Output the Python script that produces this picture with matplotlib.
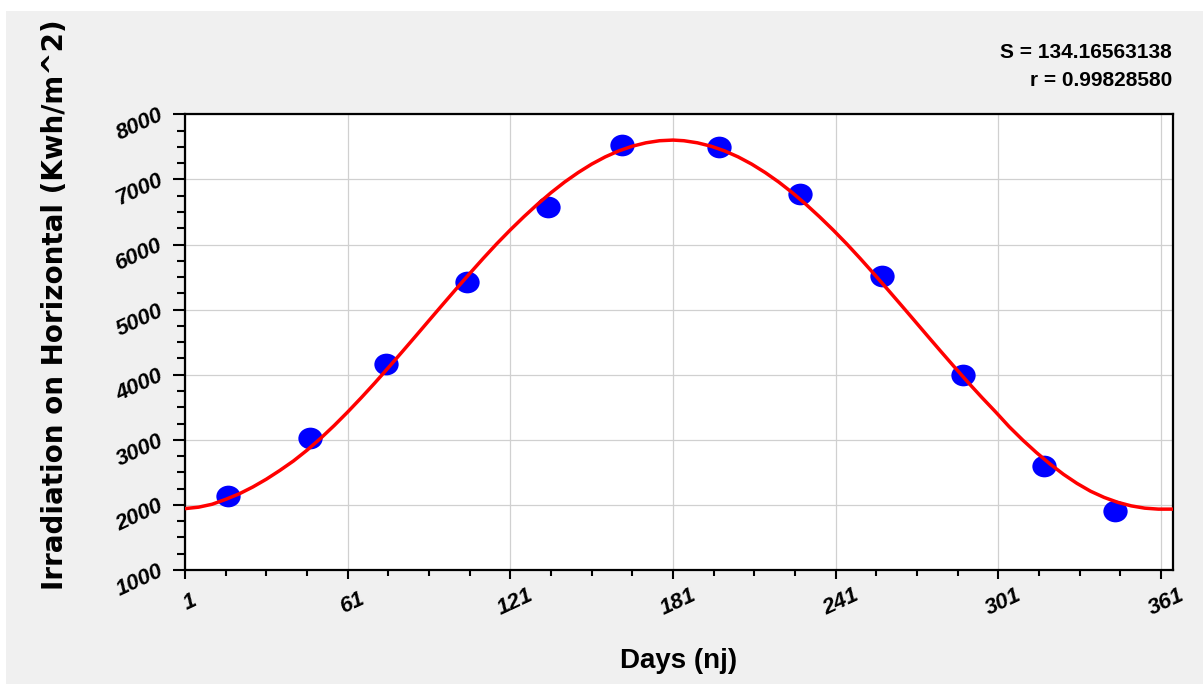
import numpy as np
import matplotlib
matplotlib.use('Agg')
import matplotlib.pyplot as plt
from matplotlib.path import Path
from matplotlib.patches import Rectangle
from matplotlib.ticker import FixedLocator
from matplotlib.transforms import Affine2D, ScaledTranslation

# mean monthly irradiation on a horizontal surface (recommended day of each month)
days = [17, 47, 75, 105, 135, 162, 198, 228, 258, 288, 318, 344]
irradiation = [2130, 3025, 4165, 5425, 6575, 7525, 7495, 6775, 5515, 3995, 2590, 1900]

# fitted curve, read every 5 days
fit_days = [1, 6, 11, 16, 21, 26, 31, 36, 41, 46, 51, 56, 61, 66, 71, 76, 81, 86, 91,
            96, 101, 106, 111, 116, 121, 126, 131, 136, 141, 146, 151, 156, 161, 166,
            171, 176, 181, 185, 190, 195, 200, 205, 210, 215, 220, 225, 230, 235, 240,
            245, 250, 255, 260, 265, 270, 275, 280, 285, 290, 295, 300, 305, 310, 315,
            320, 325, 330, 335, 340, 345, 350, 355, 360, 365]
fit_values = [1943, 1965, 2010, 2085, 2170, 2275, 2395, 2530, 2675, 2840, 3022, 3218,
              3427, 3646, 3873, 4108, 4347, 4589, 4833, 5076, 5317, 5554, 5787, 6012,
              6225, 6427, 6618, 6796, 6959, 7105, 7235, 7346, 7438, 7510, 7562, 7594,
              7604, 7594, 7562, 7510, 7438, 7346, 7235, 7105, 6959, 6796, 6618, 6427,
              6225, 6012, 5787, 5554, 5317, 5076, 4833, 4589, 4347, 4108, 3873, 3646,
              3427, 3200, 2995, 2805, 2630, 2470, 2330, 2210, 2115, 2040, 1985, 1950,
              1935, 1935]

stats_lines = ['S = 134.16563138', 'r = 0.99828580']
x_ticks = [1, 61, 121, 181, 241, 301, 361]
y_ticks = [1000, 2000, 3000, 4000, 5000, 6000, 7000, 8000]

W, H = 1203, 684
fig = plt.figure(figsize=(W / 100, H / 100), dpi=100, facecolor='white')
fig.add_artist(Rectangle((6 / W, 0), 1, 673 / H, transform=fig.transFigure,
                         facecolor='#f0f0f0', edgecolor='none', zorder=0))

ax = fig.add_axes([185 / W, 1 - 570 / H, (1173 - 185) / W, (570 - 114.3) / H])
ax.set_facecolor('white')

# slightly flattened dots
ellipse = Path.unit_circle().transformed(Affine2D().scale(1.12, 1.0))

ax.plot(fit_days, fit_values, color='#ff0000', lw=2.5, zorder=3)
ax.plot(days, irradiation, linestyle='none', marker=ellipse, markersize=17.5,
        color='#0000ff', markeredgewidth=0, zorder=2)

ax.set_xlim(1, 365.4)
ax.set_ylim(1000, 8000)
ax.xaxis.set_major_locator(FixedLocator(x_ticks))
ax.xaxis.set_minor_locator(FixedLocator(np.arange(1, 362, 15)))
ax.yaxis.set_major_locator(FixedLocator(y_ticks))
ax.yaxis.set_minor_locator(FixedLocator(np.arange(1000, 8001, 250)))

ax.grid(True, which='major', color='#d0d0d0', lw=0.9, zorder=0)
ax.set_axisbelow(True)
for sp in ax.spines.values():
    sp.set_linewidth(1.6)
    sp.set_color('black')

ax.tick_params(axis='x', which='major', direction='out', length=6.5, width=1.5, pad=17)
ax.tick_params(axis='x', which='minor', direction='out', length=4.3, width=1.5)
ax.tick_params(axis='y', which='major', direction='out', length=8.6, width=1.5, pad=8)
ax.tick_params(axis='y', which='minor', direction='out', length=5.8, width=1.5)

tick_font = dict(family='Liberation Sans', weight='bold', style='italic', size=16)
ax.set_xticklabels([str(v) for v in x_ticks], rotation=25, ha='center', va='center',
                   rotation_mode='anchor', **tick_font)
ax.set_yticklabels([str(v) for v in y_ticks], rotation=25, ha='right', va='center',
                   rotation_mode='anchor', **tick_font)
shift = ScaledTranslation(5 / 100, 0, fig.dpi_scale_trans)
for lab in ax.get_xticklabels():
    lab.set_transform(lab.get_transform() + shift)

fig.text(679 / W, 1 - 668 / H, 'Days (nj)', ha='center', va='baseline',
         family='Liberation Sans', weight='bold', size=20)
fig.text(63 / W, 1 - 305 / H, 'Irradiation on Horizontal (Kwh/m^2)', rotation=90,
         ha='center', va='baseline', rotation_mode='anchor',
         family='DejaVu Sans', weight='bold', size=20)

for i, line in enumerate(stats_lines):
    fig.text(1172 / W, 1 - (52 + 28 * i) / H, line, ha='right', va='center',
             family='Liberation Sans', weight='bold', size=15)

fig.savefig('out.png', dpi=100, facecolor=fig.get_facecolor())
